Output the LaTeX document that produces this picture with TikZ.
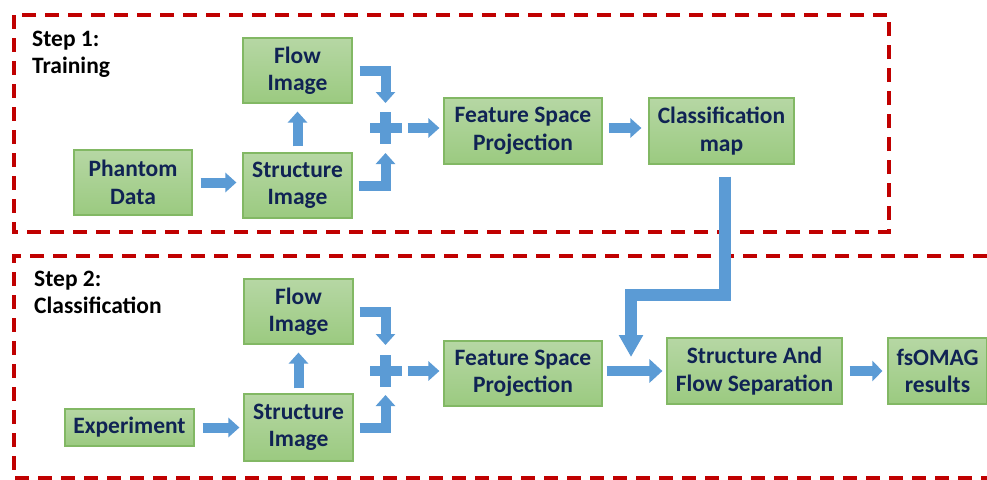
\documentclass[tikz,border=0pt]{standalone}
\usepackage{fontspec}
\setmainfont{Carlito}
\usetikzlibrary{arrows.meta,calc}
\definecolor{ablue}{HTML}{5B9BD5}
\definecolor{dred}{HTML}{C00000}
\definecolor{gtop}{HTML}{B6D7A4}
\definecolor{gbot}{HTML}{9BCA80}
\definecolor{gline}{HTML}{82B864}
\definecolor{navy}{HTML}{102354}
\tikzset{
  gbox/.style={rectangle, top color=gtop, bottom color=gbot, draw=gline, line width=1.2pt,
    inner sep=0pt, align=center, text=navy, font=\fontsize{23.5}{27.5}\selectfont\bfseries},
  steplabel/.style={anchor=north west, inner sep=0pt, align=left, text=black,
    font=\fontsize{23.5}{27}\selectfont\bfseries},
  dashframe/.style={draw=dred, line width=3.5pt, dash pattern=on 14pt off 9pt},
  arr/.style={draw=ablue, line width=10pt, line join=miter, -{Triangle[width=19pt,length=11pt]}},
  bigarr/.style={draw=ablue, line width=12pt, line join=miter, -{Triangle[width=23pt,length=22pt]}},
  midarr/.style={draw=ablue, line width=10pt, -{Triangle[width=23pt,length=13pt]}},
}
\newcommand{\plussign}[1]{%
  \fill[ablue] ([xshift=-16pt,yshift=-5pt]#1) rectangle ([xshift=16pt,yshift=5pt]#1);
  \fill[ablue] ([xshift=-5.5pt,yshift=-16pt]#1) rectangle ([xshift=5.5pt,yshift=16pt]#1);}
\begin{document}
\begin{tikzpicture}[x=1pt,y=-1pt]
\useasboundingbox (0,0) rectangle (987,479);
\fill[white] (0,0) rectangle (987,479);
% frames
\draw[dashframe] (14,15) rectangle (889,232);
\draw[dashframe] (1010,256) -- (14,256) -- (14,478) -- (1010,478);
\node[steplabel] (s1) at (32,31) {Step 1:\\Training};
\node[steplabel] (s2) at (34,271) {Step 2:\\Classification};
% top row
\node[gbox, minimum width=118pt, minimum height=65pt] (phantom) at (133,182.5) {Phantom\\Data};
\node[gbox, minimum width=109pt, minimum height=65pt] (flow1) at (297.5,70.5) {Flow\\Image};
\node[gbox, minimum width=109pt, minimum height=65pt] (struct1) at (297.5,185.5) {Structure\\Image};
\node[gbox, minimum width=158pt, minimum height=66pt] (fsp1) at (523,131) {Feature Space\\Projection};
\node[gbox, minimum width=145pt, minimum height=66pt] (cm) at (721.5,131) {Classification\\map};
\coordinate (plus1) at (385.5,128);
\plussign{plus1}
% bottom row
\node[gbox, minimum width=129pt, minimum height=37pt] (exp) at (129.5,427.5) {Experiment};
\node[gbox, minimum width=109pt, minimum height=65pt] (flow2) at (298.5,311.5) {Flow\\Image};
\node[gbox, minimum width=109pt, minimum height=67pt] (struct2) at (298.5,427.5) {Structure\\Image};
\node[gbox, minimum width=158pt, minimum height=65pt] (fsp2) at (523,373.5) {Feature Space\\Projection};
\node[gbox, minimum width=175pt, minimum height=66pt] (safs) at (754.5,371) {Structure And\\Flow Separation};
\node[gbox, minimum width=99pt, minimum height=66pt] (fso) at (937.5,371) {fsOMAG\\results};
\coordinate (plus2) at (385.5,371);
\plussign{plus2}
% top arrows
\draw[arr] ([xshift=8pt]phantom.east) -- ([xshift=-6pt]phantom.east -| struct1.west);
\draw[arr] ([yshift=6pt]struct1.north) -- ([yshift=-8pt]flow1.south);
\draw[arr] ([xshift=7pt]flow1.east) -| ([yshift=25pt]plus1);
\draw[arr] ([xshift=6pt]struct1.east) -| ([yshift=-25pt]plus1);
\draw[arr] ([xshift=22pt]plus1) -- ([xshift=-4pt]plus1 -| fsp1.west);
\draw[arr] ([xshift=6pt]fsp1.east |- plus1) -- ([xshift=-7pt]cm.west |- plus1);
% connecting arrow
\coordinate (bend) at (631,295);
\coordinate (tip) at (631,357);
\draw[bigarr] ([xshift=3pt,yshift=-12pt]cm.south) |- (bend) -- (tip);
% bottom arrows
\draw[arr] ([xshift=8pt]exp.east) -- ([xshift=-4pt]exp.east -| struct2.west);
\draw[arr] ([yshift=5pt]struct2.north) -- ([yshift=-8pt]flow2.south);
\draw[arr] ([xshift=6pt]flow2.east) -| ([yshift=26pt]plus2);
\draw[arr] ([xshift=6pt]struct2.east) -| ([yshift=-24pt]plus2);
\draw[arr] ([xshift=22pt]plus2) -- ([xshift=-4pt]plus2 -| fsp2.west);
\draw[midarr] ([xshift=4pt]fsp2.east |- safs.west) -- ([xshift=-4pt]safs.west);
\draw[arr, -{Triangle[width=20pt,length=10pt]}] ([xshift=7pt]safs.east) -- ([xshift=-5pt]fso.west);
\end{tikzpicture}
\end{document}
